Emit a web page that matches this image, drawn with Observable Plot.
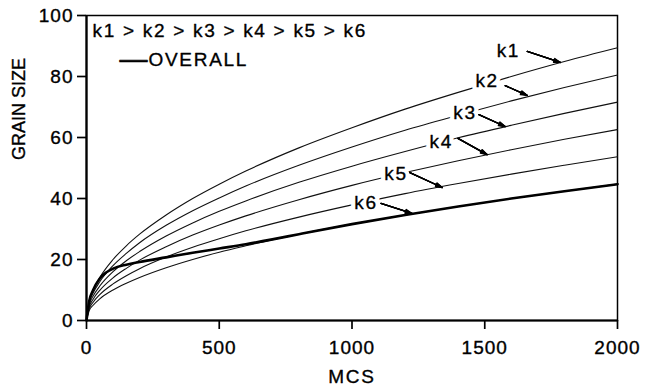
<!DOCTYPE html>
<html>
<head>
<meta charset="utf-8">
<script src="https://cdn.jsdelivr.net/npm/d3@7"></script>
<script src="https://cdn.jsdelivr.net/npm/@observablehq/plot@0.6"></script>
<style>
  html, body { margin: 0; padding: 0; background: #fff; }
  #chart svg { display: block; }
  #chart svg [aria-label="x-axis tick label"] text,
  #chart svg [aria-label="y-axis tick label"] text { letter-spacing: 1px; stroke: #000; stroke-width: 0.35px; }
  #chart svg [aria-label="x-axis tick"] path,
  #chart svg [aria-label="y-axis tick"] path { stroke-width: 1.7; }
</style>
</head>
<body>
<div id="chart"></div>
<script>
// Monte Carlo steps at which each grain-size curve is sampled
const mcs = [0, 10, 25, 50, 100, 150, 200, 300, 400, 500, 600, 800, 1000, 1200, 1400, 1600, 1800, 2000];

// Grain size for each mobility ratio k1 > k2 > ... > k6
const k1 = [0, 6.3, 10.0, 14.1, 20.0, 24.5, 28.3, 34.6, 40.0, 44.7, 49.0, 56.6, 63.2, 69.3, 74.8, 80.0, 84.9, 89.4];
const k2 = [0, 5.7, 9.0, 12.7, 18.0, 22.0, 25.5, 31.2, 36.0, 40.2, 44.1, 50.9, 56.9, 62.4, 67.3, 72.0, 76.4, 80.5];
const k3 = [0, 5.1, 8.0, 11.3, 16.0, 19.6, 22.6, 27.7, 32.0, 35.8, 39.2, 45.3, 50.6, 55.4, 59.9, 64.0, 67.9, 71.6];
const k4 = [0, 4.4, 7.0, 9.9, 14.0, 17.1, 19.8, 24.2, 28.0, 31.3, 34.3, 39.6, 44.3, 48.5, 52.4, 56.0, 59.4, 62.6];
const k5 = [0, 3.8, 6.0, 8.5, 12.0, 14.7, 17.0, 20.8, 24.0, 26.8, 29.4, 33.9, 37.9, 41.6, 44.9, 48.0, 50.9, 53.7];
const k6 = [0, 3.2, 5.0, 7.1, 10.0, 12.2, 14.1, 17.3, 20.0, 22.4, 24.5, 28.3, 31.6, 34.6, 37.4, 40.0, 42.4, 44.7];

// Overall grain size (heavy curve)
const overallMcs = [0, 10, 25, 50, 75, 100, 150, 200, 300, 400, 500, 600, 700, 800, 1000, 1200, 1400, 1600, 1800, 2000];
const overall    = [0, 6.3, 10.0, 13.8, 15.8, 17.0, 18.3, 19.2, 20.7, 22.2, 23.6, 25.0, 26.6, 28.3, 31.6, 34.6, 37.4, 40.0, 42.4, 44.7];

const seriesNames = ["k1", "k2", "k3", "k4", "k5", "k6"];
const seriesValues = [k1, k2, k3, k4, k5, k6];

// Curve labels and their leader arrows (data coordinates)
const labelMcs   = [1589, 1509, 1426, 1336, 1166, 1053];
const labelSize  = [88.5, 78.4, 67.9, 58.7, 48.2, 38.7];
const arrowMcs1  = [1660, 1577, 1478, 1399, 1218, 1109];
const arrowSize1 = [88.2, 77.0, 67.5, 59.7, 48.5, 38.4];
const arrowMcs2  = [1785, 1660, 1577, 1509, 1340, 1226];
const arrowSize2 = [84.6, 73.8, 63.6, 54.4, 43.6, 35.1];

// Axis ticks
const xTicks = [0, 500, 1000, 1500, 2000];
const yTicks = [0, 20, 40, 60, 80, 100];

const curveRows = seriesNames.flatMap((name, i) =>
  mcs.map((m, j) => ({series: name, mcs: m, size: seriesValues[i][j]})));
const overallRows = overallMcs.map((m, j) => ({mcs: m, size: overall[j]}));
const labelRows = seriesNames.map((name, i) => ({
  name, x: labelMcs[i], y: labelSize[i],
  x1: arrowMcs1[i], y1: arrowSize1[i], x2: arrowMcs2[i], y2: arrowSize2[i]
}));

const textStyle = {fill: "#000", stroke: "#000", strokeWidth: 0.35, fontSize: 19};

// Solid arrowheads: nested chevrons of decreasing spread fill the wedge
const arrowHeads = [34, 24, 14, 5].map(angle =>
  Plot.arrow(labelRows, {x1: "x1", y1: "y1", x2: "x2", y2: "y2", stroke: "#000", strokeWidth: 1.3, headLength: 8, headAngle: angle}));

const chart = Plot.plot({
  width: 645,
  height: 389,
  marginLeft: 86,
  marginRight: 28,
  marginTop: 15,
  marginBottom: 69,
  style: {fontFamily: "'Liberation Sans', Arial, Helvetica, sans-serif", fontSize: "19px", color: "#000", background: "#fff"},
  x: {domain: [0, 2000], ticks: xTicks, tickSize: 9, tickPadding: 11, tickFormat: d => String(d), label: null},
  y: {domain: [0, 100], ticks: yTicks, tickSize: 9, tickPadding: 4, tickFormat: d => String(d), label: null},
  marks: [
    Plot.frame({stroke: "#000", strokeWidth: 1.5}),
    Plot.ruleX([0], {stroke: "#000", strokeWidth: 2.2}),
    Plot.ruleY([0], {stroke: "#000", strokeWidth: 2.2}),
    Plot.line(curveRows, {x: "mcs", y: "size", z: "series", stroke: "#111", strokeWidth: 1.1, curve: "monotone-x"}),
    Plot.line(overallRows, {x: "mcs", y: "size", stroke: "#000", strokeWidth: 2.6, curve: "monotone-x"}),
    // white halo behind each curve label breaks the curve it sits on
    Plot.text(labelRows, {x: "x", y: "y", text: "name", fill: "#fff", stroke: "#fff", strokeWidth: 9, fontSize: 19}),
    Plot.text(labelRows, {x: "x", y: "y", text: "name", ...textStyle}),
    ...arrowHeads,
    Plot.text(["k1 > k2 > k3 > k4 > k5 > k6"], {frameAnchor: "top-left", dx: 6, dy: 8, lineAnchor: "top", textAnchor: "start", ...textStyle}),
    Plot.text(["\u2014"], {frameAnchor: "top-left", dx: 33, dy: 33, lineAnchor: "top", textAnchor: "start", fontSize: 28, fill: "#000", stroke: "#000", strokeWidth: 0.6}),
    Plot.text(["OVERALL"], {frameAnchor: "top-left", dx: 62, dy: 37, lineAnchor: "top", textAnchor: "start", ...textStyle}),
    Plot.text(["MCS"], {frameAnchor: "bottom", dy: 49, lineAnchor: "top", ...textStyle}),
    Plot.text(["GRAIN SIZE"], {frameAnchor: "left", dx: -67, dy: -8, rotate: -90, ...textStyle, fontSize: 18})
  ]
});

// Wider tracking for the horizontal annotation text
chart.querySelectorAll('[aria-label="text"] text').forEach(t => {
  if (t.textContent !== "GRAIN SIZE") t.style.letterSpacing = "1.7px";
});

document.getElementById("chart").append(chart);
</script>
</body>
</html>
